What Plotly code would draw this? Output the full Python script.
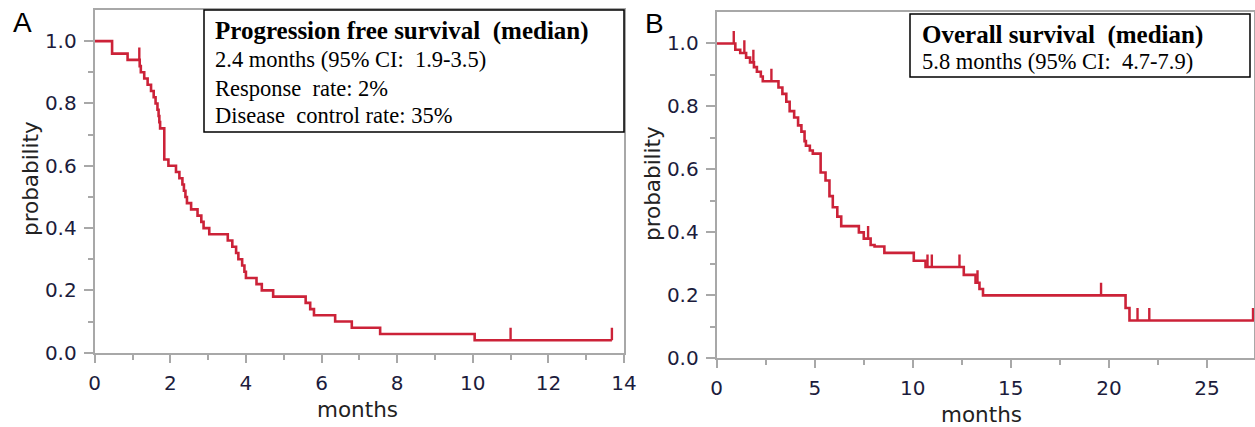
import numpy as np
import plotly.graph_objects as go

# ---------------- data ----------------
pfs_time = [0.00, 0.46, 0.87, 1.19, 1.22, 1.31, 1.40, 1.49, 1.56, 1.61, 1.66, 1.69,
            1.71, 1.73, 1.84, 1.95, 2.15, 2.24, 2.32, 2.36, 2.40, 2.44, 2.55, 2.72,
            2.82, 2.88, 3.03, 3.52, 3.64, 3.74, 3.80, 3.90, 3.96, 4.00, 4.28, 4.42,
            4.72, 5.58, 5.70, 5.80, 6.36, 6.80, 7.55, 10.05, 13.68]
pfs_surv = [1.00, 0.96, 0.94, 0.92, 0.90, 0.88, 0.86, 0.84, 0.82, 0.80, 0.78, 0.76,
            0.74, 0.72, 0.62, 0.60, 0.58, 0.56, 0.54, 0.52, 0.50, 0.48, 0.46, 0.44,
            0.42, 0.40, 0.38, 0.36, 0.34, 0.32, 0.30, 0.28, 0.26, 0.24, 0.22, 0.20,
            0.18, 0.16, 0.14, 0.12, 0.10, 0.08, 0.06, 0.04, 0.04]
pfs_censor = [1.18, 11.0, 13.68]

os_time = [0.00, 0.95, 1.20, 1.50, 1.70, 1.90, 2.05, 2.25, 2.35, 3.15, 3.35, 3.55,
           3.72, 3.95, 4.15, 4.32, 4.48, 4.55, 4.75, 4.90, 5.30, 5.55, 5.75, 5.92,
           6.15, 6.35, 7.25, 7.50, 7.85, 8.05, 8.55, 10.05, 10.65, 12.60, 13.20,
           13.40, 13.58, 20.85, 21.05, 27.40]
os_surv = [1.000, 0.980, 0.970, 0.955, 0.940, 0.925, 0.910, 0.895, 0.880, 0.860,
           0.840, 0.815, 0.785, 0.765, 0.740, 0.720, 0.690, 0.675, 0.660, 0.650,
           0.590, 0.565, 0.515, 0.480, 0.450, 0.420, 0.400, 0.380, 0.360, 0.355,
           0.335, 0.310, 0.290, 0.265, 0.240, 0.220, 0.200, 0.160, 0.120, 0.120]
os_censor = [0.87, 1.41, 1.87, 2.79, 7.72, 10.75, 10.97, 12.38, 13.30, 19.60,
             21.46, 22.06, 27.35]

x_ticks_a = [0, 2, 4, 6, 8, 10, 12, 14]
x_ticks_b = [0, 5, 10, 15, 20, 25]
y_ticks = [0.0, 0.2, 0.4, 0.6, 0.8, 1.0]

text_a = ["Progression free survival\u00a0 (median)",
          "2.4 months (95% CI:\u00a0 1.9-3.5)",
          "Response\u00a0 rate: 2%",
          "Disease\u00a0 control rate: 35%"]
text_b = ["Overall survival\u00a0 (median)",
          "5.8 months (95% CI:\u00a0 4.7-7.9)"]

# ---------------- styling ----------------
W, H = 1255, 427
RED = "#cc2238"
GRAY = "#a8a8a8"
TICKCOL = "#1c1c3c"
TICKFONT = dict(family="DejaVu Sans", size=20, color=TICKCOL)
TITLEFONT = dict(family="DejaVu Sans", size=21.5, color="#222")
SERIF = "Liberation Serif"
TICK_UP = 0.04


def px(x):
    return x / W


def py(y):
    return 1 - y / H


def censor_segments(times, surv, cens):
    t = np.asarray(times)
    s = np.asarray(surv)
    xs, ys = [], []
    for c in cens:
        idx = np.searchsorted(t, c, side="right") - 1
        lvl = s[idx]
        xs += [c, c, None]
        ys += [lvl, lvl + TICK_UP, None]
    return xs, ys


fig = go.Figure()

# Panel A
fig.add_trace(go.Scatter(x=pfs_time, y=pfs_surv, mode="lines", line_shape="hv",
                         line=dict(color=RED, width=2.6), xaxis="x", yaxis="y",
                         showlegend=False, hoverinfo="skip"))
cx, cy = censor_segments(pfs_time, pfs_surv, pfs_censor)
fig.add_trace(go.Scatter(x=cx, y=cy, mode="lines", line=dict(color=RED, width=2.4),
                         xaxis="x", yaxis="y", showlegend=False, hoverinfo="skip"))

# Panel B
fig.add_trace(go.Scatter(x=os_time, y=os_surv, mode="lines", line_shape="hv",
                         line=dict(color=RED, width=2.6), xaxis="x2", yaxis="y2",
                         showlegend=False, hoverinfo="skip"))
cx, cy = censor_segments(os_time, os_surv, os_censor)
fig.add_trace(go.Scatter(x=cx, y=cy, mode="lines", line=dict(color=RED, width=2.4),
                         xaxis="x2", yaxis="y2", showlegend=False, hoverinfo="skip"))


def xaxis_style(dom, rng, ticks, minor_vals, anchor):
    return dict(domain=dom, range=rng, anchor=anchor, tickmode="array", tickvals=ticks,
                ticktext=[str(v) for v in ticks], showgrid=False, zeroline=False,
                automargin=False,
                showline=True, linecolor=GRAY, linewidth=2, mirror=True,
                ticks="outside", ticklen=8, tickwidth=2, tickcolor=GRAY,
                tickfont=TICKFONT, ticklabelstandoff=3,
                minor=dict(tickmode="array", tickvals=minor_vals, ticks="outside",
                           ticklen=5, tickwidth=2, tickcolor=GRAY, showgrid=False))


def yaxis_style(dom, anchor):
    return dict(domain=dom, range=[0, 1.1], anchor=anchor, tickmode="array",
                tickvals=y_ticks, ticktext=["%.1f" % v for v in y_ticks],
                showgrid=False, zeroline=False, showline=True, linecolor=GRAY,
                automargin=False,
                linewidth=2, mirror=True, ticks="outside", ticklen=9, tickwidth=2,
                tickcolor=GRAY, tickfont=TICKFONT, ticklabelstandoff=3,
                minor=dict(tickmode="array", tickvals=[0.1, 0.3, 0.5, 0.7, 0.9],
                           ticks="outside", ticklen=5, tickwidth=2, tickcolor=GRAY,
                           showgrid=False))


fig.update_layout(
    template="none",
    width=W, height=H, margin=dict(l=0, r=0, t=0, b=0, pad=0, autoexpand=False),
    paper_bgcolor="white", plot_bgcolor="white",
    xaxis=xaxis_style([px(94.7), px(624)], [0, 14], x_ticks_a,
                      [1, 3, 5, 7, 9, 11, 13], "y"),
    yaxis=yaxis_style([py(352.7), py(10)], "x"),
    xaxis2=xaxis_style([px(716.7), px(1254)], [0, 27.4], x_ticks_b,
                       [2.5, 7.5, 12.5, 17.5, 22.5], "y2"),
    yaxis2=yaxis_style([py(358.3), py(12)], "x2"),
)

ann = []
# axis titles
ann.append(dict(text="months", x=px(357), y=py(409), showarrow=False, font=TITLEFONT,
                xref="paper", yref="paper", xanchor="center", yanchor="middle"))
ann.append(dict(text="months", x=px(981), y=py(414), showarrow=False, font=TITLEFONT,
                xref="paper", yref="paper", xanchor="center", yanchor="middle"))
ann.append(dict(text="probability", x=px(30), y=py(179), showarrow=False, textangle=-90,
                font=TITLEFONT, xref="paper", yref="paper",
                xanchor="center", yanchor="middle"))
ann.append(dict(text="probability", x=px(652), y=py(184), showarrow=False, textangle=-90,
                font=TITLEFONT, xref="paper", yref="paper",
                xanchor="center", yanchor="middle"))
# panel letters
ann.append(dict(text="A", x=px(22), y=py(23), showarrow=False,
                font=dict(family="Liberation Sans", size=28, color="black"),
                xref="paper", yref="paper", xanchor="center", yanchor="middle"))
ann.append(dict(text="B", x=px(654), y=py(24), showarrow=False,
                font=dict(family="Liberation Sans", size=28, color="black"),
                xref="paper", yref="paper", xanchor="center", yanchor="middle"))

# text boxes
shapes = [
    dict(type="rect", xref="paper", yref="paper", x0=px(204), x1=px(624),
         y0=py(132), y1=py(10), line=dict(color="black", width=1.5),
         fillcolor="white", layer="above"),
    dict(type="rect", xref="paper", yref="paper", x0=px(910), x1=px(1250),
         y0=py(77), y1=py(14), line=dict(color="black", width=1.5),
         fillcolor="white", layer="above"),
]
ya = [31, 60, 88, 115]
for i, t in enumerate(text_a):
    bold = i == 0
    ann.append(dict(text=("<b>%s</b>" % t) if bold else t, x=px(213), y=py(ya[i]),
                    showarrow=False, xref="paper", yref="paper", xanchor="left",
                    yanchor="middle",
                    font=dict(family=SERIF, size=25 if bold else 22.5, color="black")))
yb = [35, 62]
for i, t in enumerate(text_b):
    bold = i == 0
    ann.append(dict(text=("<b>%s</b>" % t) if bold else t, x=px(920), y=py(yb[i]),
                    showarrow=False, xref="paper", yref="paper", xanchor="left",
                    yanchor="middle",
                    font=dict(family=SERIF, size=25 if bold else 22.5, color="black")))

fig.update_layout(annotations=ann, shapes=shapes)
fig.write_html("out.html",
               config={"displayModeBar": False},
               post_script="document.body.style.margin='0';"
                           "document.body.style.padding='0';"
                           "document.body.style.overflow='hidden';")
